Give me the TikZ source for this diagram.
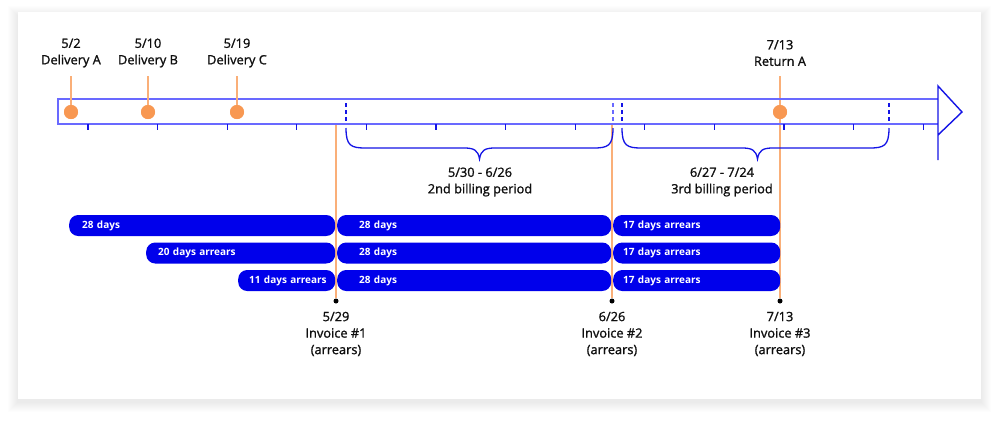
\documentclass[tikz,border=0pt]{standalone}
\usepackage{fontspec}
\setmainfont{Open Sans}
\newfontfamily\semifont{Open Sans}[FakeBold=1.3]
\definecolor{bandblue}{RGB}{105,105,255}
\definecolor{strongblue}{RGB}{20,20,230}
\definecolor{barblue}{RGB}{0,0,235}
\definecolor{lineorange}{RGB}{250,175,120}
\definecolor{dotorange}{RGB}{248,152,82}
\definecolor{txt}{RGB}{15,15,15}
\tikzset{
  band/.style={draw=bandblue, line width=2pt},
  tickmark/.style={draw=strongblue, line width=1.2pt},
  arrowhd/.style={draw=strongblue, line width=1.4pt, line join=miter},
  dashmark/.style={draw=strongblue, line width=1.5pt, dash pattern=on 4pt off 3pt},
  bracepath/.style={draw=strongblue, line width=1.3pt},
  oline/.style={draw=lineorange, line width=1.3pt},
  evdot/.style={circle, fill=dotorange, minimum size=14pt, inner sep=0pt},
  invdot/.style={circle, fill=black, minimum size=5pt, inner sep=0pt},
  lbl/.style={align=center, text=txt, font=\semifont\fontsize{12.8}{16.5}\selectfont, inner sep=0pt},
  bar/.style={fill=barblue, rounded corners=9pt, minimum height=21pt, anchor=west,
              text=white, font=\fontsize{10}{11}\selectfont\bfseries, align=left, inner ysep=0pt}
}
\begin{document}
\begin{tikzpicture}[x=1pt,y=-1pt]
\useasboundingbox (0,0) rectangle (999,424);
% card shadow
\foreach \i in {1,...,10}{
  \fill[black, opacity=0.009] (18-\i,12-\i+4) rectangle (981+\i,399+\i+3);
}
\fill[white] (18,12) rectangle (981,399);

% connector end points
\coordinate (tA) at (71,76);
\coordinate (tB) at (148,76);
\coordinate (tC) at (237,76);
\coordinate (tR) at (780,76);
\coordinate (s1) at (336,124);
\coordinate (s2) at (612,124);

% invoice dots
\node[invdot] (i1) at (336,301) {};
\node[invdot] (i2) at (612,301) {};
\node[invdot] (i3) at (780,301) {};

\draw[oline] (s1) -- (i1);
\draw[oline] (s2) -- (i2);
\draw[oline] (tR) -- (i3);

% band
\draw[band] (938,99) -- (58,99) -- (58,124) -- (938,124);
\foreach \k in {0,...,12}{
  \draw[tickmark] ({88+69.6*\k},124) -- ({88+69.6*\k},130);
}
% arrow head
\draw[arrowhd] (938,160) -- (938,86) -- (962,112) -- (938,135);

% dashed markers
\draw[dashmark] (346,103) -- (346,123);
\draw[dashmark, draw=bandblue] (613,103) -- (613,123);
\draw[dashmark] (622,103) -- (622,123);
\draw[dashmark] (889,103) -- (889,123);

% braces
\draw[bracepath] (346,128) .. controls (346,146) and (351,148) .. (366,148)
  -- (464,148) .. controls (474,148) and (478,150) .. (479.5,159)
  .. controls (481,150) and (485,148) .. (495,148)
  -- (593,148) .. controls (608,148) and (613,146) .. (613,128);
\draw[bracepath] (622,128) .. controls (622,146) and (627,148) .. (642,148)
  -- (742,148) .. controls (752,148) and (756,150) .. (757.5,159)
  .. controls (759,150) and (763,148) .. (773,148)
  -- (869,148) .. controls (884,148) and (889,146) .. (889,128);

% event dots and labels
\node[evdot] (dA) at (71,112) {};
\node[evdot] (dB) at (148,112) {};
\node[evdot] (dC) at (237,112) {};
\node[evdot] (dR) at (780,112) {};
\draw[oline] (tA) -- (dA.center);
\draw[oline] (tB) -- (dB.center);
\draw[oline] (tC) -- (dC.center);
\node[evdot] at (dA) {};
\node[evdot] at (dB) {};
\node[evdot] at (dC) {};
\node[evdot] at (dR) {};

\node[lbl] (lA) at (71,53) {5/2\\Delivery A};
\node[lbl] (lB) at (148,53) {5/10\\Delivery B};
\node[lbl] (lC) at (237,53) {5/19\\Delivery C};
\node[lbl] (lR) at (780,53) {7/13\\Return A};

\node[lbl] (p2) at (480,182) {5/30 - 6/26\\2nd billing period};
\node[lbl] (p3) at (722,182) {6/27 - 7/24\\3rd billing period};

% bars
\node[bar, minimum width=266pt, text width=240pt, inner xsep=13pt] (b11) at (69,225.5) {\mbox{28 days}};
\node[bar, minimum width=189pt, text width=165pt, inner xsep=12pt] (b21) at (146,253) {\mbox{20 days arrears}};
\node[bar, minimum width=97pt, text width=75pt, inner xsep=11pt] (b31) at (238,280.5) {\mbox{11 days arrears}};
\foreach \r/\y in {1/225.5,2/253,3/280.5}{
  \node[bar, minimum width=274pt, text width=230pt, inner xsep=22pt] (b\r2) at (337,\y) {\mbox{28 days}};
  \node[bar, minimum width=167pt, text width=147pt, inner xsep=10pt] (b\r3) at (613,\y) {\mbox{17 days arrears}};
}

% invoice labels
\node[lbl] (n1) at (336,334) {5/29\\Invoice \#1\\(arrears)};
\node[lbl] (n2) at (612,334) {6/26\\Invoice \#2\\(arrears)};
\node[lbl] (n3) at (780,334) {7/13\\Invoice \#3\\(arrears)};
\end{tikzpicture}
\end{document}
